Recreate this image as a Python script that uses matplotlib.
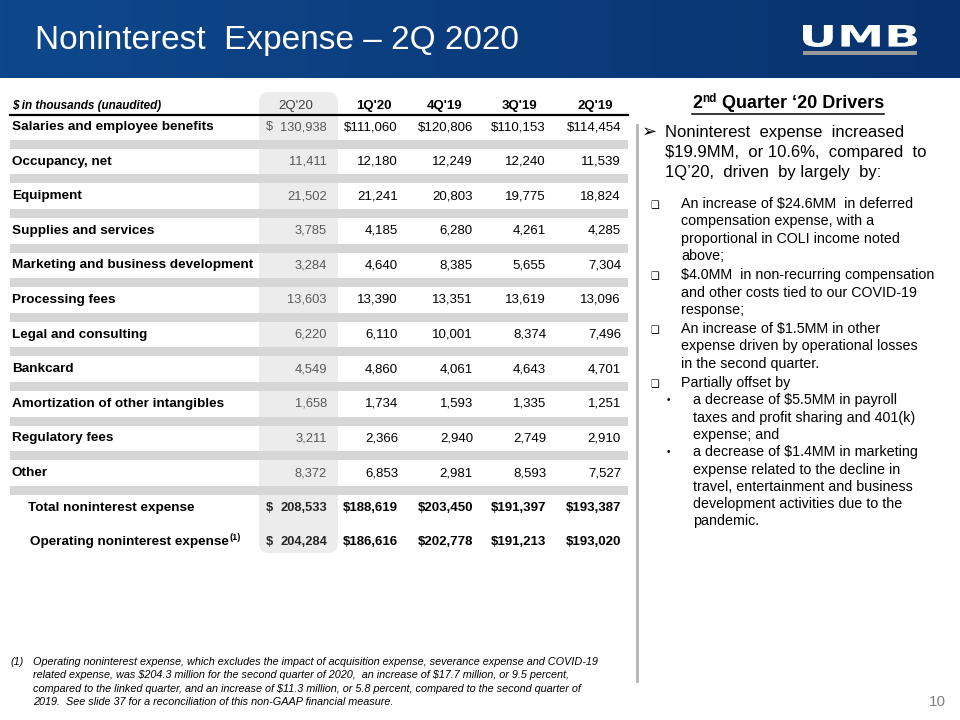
import numpy as np
import matplotlib
matplotlib.use("Agg")
import matplotlib.pyplot as plt
from matplotlib.patches import FancyBboxPatch, PathPatch, Rectangle
from matplotlib.textpath import TextPath
from matplotlib.font_manager import FontProperties
from matplotlib.transforms import Affine2D

plt.rcParams["text.parse_math"] = False

# ----------------------------
# Data
# ----------------------------
title = "Noninterest  Expense \u2013 2Q 2020"
unit_label = "$ in thousands (unaudited)"
quarters = ["2Q'20", "1Q'20", "4Q'19", "3Q'19", "2Q'19"]

row_labels = [
    "Salaries and employee benefits",
    "Occupancy, net",
    "Equipment",
    "Supplies and services",
    "Marketing and business development",
    "Processing fees",
    "Legal and consulting",
    "Bankcard",
    "Amortization of other intangibles",
    "Regulatory fees",
    "Other",
]
q2_20 = [130938, 11411, 21502, 3785, 3284, 13603, 6220, 4549, 1658, 3211, 8372]
q1_20 = [111060, 12180, 21241, 4185, 4640, 13390, 6110, 4860, 1734, 2366, 6853]
q4_19 = [120806, 12249, 20803, 6280, 8385, 13351, 10001, 4061, 1593, 2940, 2981]
q3_19 = [110153, 12240, 19775, 4261, 5655, 13619, 8374, 4643, 1335, 2749, 8593]
q2_19 = [114454, 11539, 18824, 4285, 7304, 13096, 7496, 4701, 1251, 2910, 7527]

total_labels = ["Total noninterest expense", "Operating noninterest expense"]
total_values = [
    [208533, 188619, 203450, 191397, 193387],
    [204284, 186616, 202778, 191213, 193020],
]

heading = ["2", "nd", " Quarter \u201820 Drivers"]
main_bullet = [
    "Noninterest  expense  increased",
    "$19.9MM,  or 10.6%,  compared  to",
    "1Q\u201920,  driven  by largely  by:",
]
sub_bullets = [
    ["An increase of $24.6MM  in deferred",
     "compensation expense, with a",
     "proportional in COLI income noted",
     "above;"],
    ["$4.0MM  in non-recurring compensation",
     "and other costs tied to our COVID-19",
     "response;"],
    ["An increase of $1.5MM in other",
     "expense driven by operational losses",
     "in the second quarter."],
    ["Partially offset by"],
]
dot_bullets = [
    ["a decrease of $5.5MM in payroll",
     "taxes and profit sharing and 401(k)",
     "expense; and"],
    ["a decrease of $1.4MM in marketing",
     "expense related to the decline in",
     "travel, entertainment and business",
     "development activities due to the",
     "pandemic."],
]
footnote = [
    "Operating noninterest expense, which excludes the impact of acquisition expense, severance expense and COVID-19",
    "related expense, was $204.3 million for the second quarter of 2020,  an increase of $17.7 million, or 9.5 percent,",
    "compared to the linked quarter, and an increase of $11.3 million, or 5.8 percent, compared to the second quarter of",
    "2019.  See slide 37 for a reconciliation of this non-GAAP financial measure.",
]

# ----------------------------
# Fonts
# ----------------------------
SANS = ["Liberation Sans", "DejaVu Sans"]

fig = plt.figure(figsize=(9.6, 7.2), dpi=100)
ax = fig.add_axes([0, 0, 1, 1])

# ----------------------------
# Header band
# ----------------------------
grad = np.linspace(0, 1, 256)
c0 = np.array([14, 72, 140]) / 255
c1 = np.array([8, 50, 110]) / 255
band = (c0[None, :] * (1 - grad[:, None]) + c1[None, :] * grad[:, None])[None, :, :]
ax.imshow(band, extent=[0, 960, 78, 0], aspect="auto", zorder=0)
ax.set_xlim(0, 960)
ax.set_ylim(720, 0)
ax.axis("off")

ax.text(35, 41, title, color="white", fontsize=24, family=SANS,
        va="center", ha="left")

# UMB logo: text path stretched into its box
tp = TextPath((0, 0), "UMB", size=1, prop=FontProperties(family="DejaVu Sans", weight="heavy"))
ext = tp.get_extents()
sx = (917 - 803) / ext.width
sy = (47 - 25) / ext.height
tr = Affine2D().translate(-ext.x0, -ext.y0).scale(sx, -sy).translate(803, 47)
ax.add_patch(PathPatch(tr.transform_path(tp), facecolor="white", edgecolor="none", zorder=3))
ax.add_patch(Rectangle((803, 51), 114, 4, facecolor="#9a9a9a", edgecolor="none", zorder=3))

# ----------------------------
# Table
# ----------------------------
row_y0 = 127
row_step = 34.6
rows_y = [row_y0 + i * row_step for i in range(len(row_labels) + len(total_labels))]

# highlighted current-quarter column
ax.add_patch(FancyBboxPatch((263, 96), 71, 453, boxstyle="round,pad=4,rounding_size=10",
                            facecolor="#ececec", edgecolor="none", zorder=1))

# header
ax.text(12, 106, unit_label, fontsize=8.5, family=SANS, style="italic",
        weight="bold", va="center", ha="left")
header_x = [296, 374, 445, 519, 595]
for i, q in enumerate(quarters):
    ax.text(header_x[i], 106, q, fontsize=9.5, family=SANS,
            weight="normal" if i == 0 else "bold",
            color="#404040" if i == 0 else "black", va="center", ha="center")
ax.plot([10, 628], [115, 115], color="black", lw=1.6, zorder=3)

# separator bands
for i in range(len(row_labels)):
    yb = rows_y[i] + row_step / 2
    ax.add_patch(Rectangle((10, yb - 4.5), 618, 9, facecolor="#d6d6d6",
                           edgecolor="none", zorder=2))

value_right = [327, 398, 473, 546, 621]
columns = [q2_20, q1_20, q4_19, q3_19, q2_19]


def draw_value(ci, y, v, dollar, bold):
    s = f"{v:,}"
    w = "bold" if bold else "normal"
    if ci == 0:
        col = "#262626" if bold else "#595959"
        if dollar:
            ax.text(266, y, "$", fontsize=9.3, family=SANS, color=col,
                    weight=w, va="center", ha="left", zorder=4)
        ax.text(value_right[0], y, s, fontsize=9.3, family=SANS,
                color=col, weight=w, va="center", ha="right", zorder=4)
    else:
        ax.text(value_right[ci], y, ("$" if dollar else "") + s, fontsize=9.5, family=SANS,
                color="black", weight=w, va="center", ha="right", zorder=4)


for r, label in enumerate(row_labels):
    y = rows_y[r]
    ax.text(12, y, label, fontsize=9.7, family=SANS, weight="bold", va="center",
            ha="left", zorder=4)
    for ci, col in enumerate(columns):
        draw_value(ci, y, col[r], r == 0, False)

renderer = fig.canvas.get_renderer()
inv = ax.transData.inverted()


def text_right_edge(t):
    bb = t.get_window_extent(renderer=renderer)
    return inv.transform((bb.x1, bb.y0))[0]


for k, label in enumerate(total_labels):
    y = rows_y[len(row_labels) + k]
    t = ax.text(28 if k == 0 else 30, y, label, fontsize=9.7, family=SANS, weight="bold",
                va="center", ha="left", zorder=4)
    if k == 1:
        xr = text_right_edge(t)
        ax.text(xr + 1, y - 5, "(1)", fontsize=6.5, family=SANS, weight="bold",
                va="center", ha="left", zorder=4)
    for ci in range(len(quarters)):
        draw_value(ci, y, total_values[k][ci], True, True)

# divider
ax.plot([637, 637], [125, 681], color="#b3b3b3", lw=2, zorder=2)

# ----------------------------
# Right panel
# ----------------------------
t1 = ax.text(692, 104, heading[0], fontsize=13, family=SANS, weight="bold",
             va="center", ha="left")
x1 = text_right_edge(t1)
t2 = ax.text(x1 + 0.5, 99, heading[1], fontsize=8.5, family=SANS, weight="bold",
             va="center", ha="left")
x2 = text_right_edge(t2)
t3 = ax.text(x2, 104, heading[2], fontsize=13, family=SANS, weight="bold",
             va="center", ha="left")
x3 = text_right_edge(t3)
ax.plot([692, x3], [114, 114], color="black", lw=1.1)

ax.text(642, 132, "\u27a2", fontsize=13, family=["DejaVu Sans"], va="center", ha="left")
for i, line in enumerate(main_bullet):
    ax.text(665, 132 + i * 20.5, line, fontsize=12, family=SANS, va="center", ha="left")

ly = 204
step = 17.3
for block in sub_bullets:
    ax.text(650, ly + 1, "\u2751", fontsize=7, family=["DejaVu Sans"], va="center", ha="left")
    for line in block:
        ax.text(681, ly, line, fontsize=10.3, family=SANS, va="center", ha="left")
        ly += step
    ly += 2
ly -= 2
for block in dot_bullets:
    ax.text(667, ly, "\u2022", fontsize=7, family=SANS, va="center", ha="left")
    for line in block:
        ax.text(693, ly, line, fontsize=10.3, family=SANS, va="center", ha="left")
        ly += step

# ----------------------------
# Footnote and page number
# ----------------------------
ax.text(10, 662, "(1)", fontsize=7.8, family=SANS, style="italic", va="center", ha="left")
for i, line in enumerate(footnote):
    ax.text(33, 662 + i * 13.4, line, fontsize=7.8, family=SANS, style="italic",
            va="center", ha="left")
ax.text(946, 702, "10", fontsize=11, family=SANS, color="#7f7f7f", va="center", ha="right")

fig.savefig("out.png", dpi=100)
